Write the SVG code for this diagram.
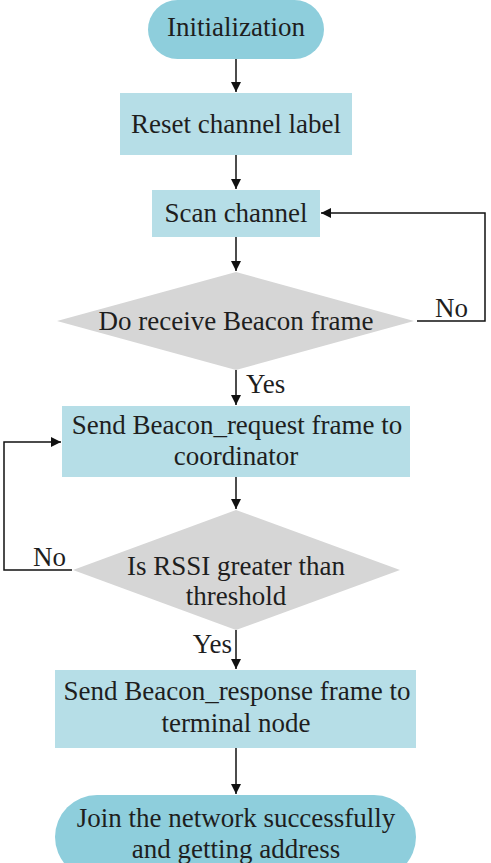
<svg xmlns="http://www.w3.org/2000/svg" width="491" height="863" viewBox="0 0 491 863">
<defs>
<marker id="arr" viewBox="0 0 10 10" refX="10" refY="5" markerWidth="10" markerHeight="10" markerUnits="userSpaceOnUse" orient="auto">
<path d="M0,0 L10,5 L0,10 z" fill="#111"/>
</marker>
<style>
.box{fill:#b6dee7}
.pill{fill:#8ecedc}
.dia{fill:#d6d6d6}
.c{fill:none;stroke:#111;stroke-width:1.5}
</style>
</defs>
<rect width="491" height="863" fill="#fff"/>
<g font-family="Liberation Serif, DejaVu Serif, serif" font-size="27" fill="#1e1e1e" text-anchor="middle">
<g id="init">
<rect class="pill" x="148" y="0" width="176" height="59" rx="29.5"/>
<text x="236" y="36">Initialization</text>
</g>
<g id="reset">
<rect class="box" x="120" y="93" width="232" height="62"/>
<text x="236" y="133">Reset channel label</text>
</g>
<g id="scan">
<rect class="box" x="152" y="190" width="168" height="47"/>
<text x="236" y="222">Scan channel</text>
</g>
<g id="receive">
<polygon class="dia" points="236,272 414,321 236,370 57,321"/>
<text x="236" y="330">Do receive Beacon frame</text>
</g>
<g id="request">
<rect class="box" x="62" y="406" width="348" height="71"/>
<text x="237" y="434">Send Beacon_request frame to</text>
<text x="236" y="465">coordinator</text>
</g>
<g id="rssi">
<polygon class="dia" points="236,510 400,570 236,630 73,570"/>
<text x="236" y="575">Is RSSI greater than</text>
<text x="236" y="605">threshold</text>
</g>
<g id="response">
<rect class="box" x="55" y="670" width="361" height="78"/>
<text x="237" y="700">Send Beacon_response frame to</text>
<text x="236" y="732">terminal node</text>
</g>
<g id="join">
<rect class="pill" x="55" y="795" width="361" height="84" rx="42"/>
<text x="236" y="827">Join the network successfully</text>
<text x="236" y="858">and getting address</text>
</g>
<g id="connectors">
<path class="c" d="M236,59 V92" marker-end="url(#arr)"/>
<path class="c" d="M236,155 V189" marker-end="url(#arr)"/>
<path class="c" d="M236,237 V271" marker-end="url(#arr)"/>
<path class="c" d="M417,321 H485 V213 H321" marker-end="url(#arr)"/>
<path class="c" d="M236,370 V405" marker-end="url(#arr)"/>
<path class="c" d="M236,477 V509" marker-end="url(#arr)"/>
<path class="c" d="M72,570 H4 V442 H61" marker-end="url(#arr)"/>
<path class="c" d="M236,630 V669" marker-end="url(#arr)"/>
<path class="c" d="M236,748 V794" marker-end="url(#arr)"/>
<text x="435" y="317" text-anchor="start">No</text>
<text x="246" y="393" text-anchor="start">Yes</text>
<text x="33" y="566" text-anchor="start">No</text>
<text x="232" y="653" text-anchor="end">Yes</text>
</g>
</g>
</svg>
